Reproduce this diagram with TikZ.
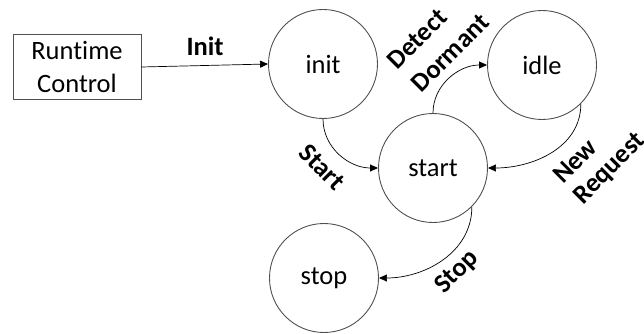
\documentclass[tikz,border=0pt]{standalone}
\usepackage{fontspec}
\setmainfont{Carlito}[RawFeature=-liga]
\usetikzlibrary{arrows.meta}
\definecolor{edgegray}{RGB}{80,80,80}
\begin{document}
\begin{tikzpicture}[x=1pt,y=-1pt,
  every node/.style={font=\fontsize{26.5}{33}\selectfont},
  state/.style={circle,draw=edgegray,line width=0.9pt,minimum size=109pt,inner sep=0pt},
  ctrlbox/.style={rectangle,draw=edgegray,line width=0.9pt,minimum width=128pt,minimum height=65pt,align=center,inner sep=0pt},
  arr/.style={draw=black,line width=0.7pt,-{Triangle[length=8pt,width=7pt]}},
  lbl/.style={font=\fontsize{26.5}{33}\selectfont\bfseries,inner sep=0pt}]
\useasboundingbox (0,0) rectangle (644,334);
\node[ctrlbox] (rc) at (77,67) {Runtime\\Control};
\node[state] (init) at (323,64) {init};
\node[state] (idle) at (542,65) {idle};
\node[state] (start) at (433,168) {start};
\node[state] (stop) at (324,278) {stop};
\draw[arr] (rc.east) -- (init.west);
\draw[arr] (init.south) to[out=-90,in=180] (start.west);
\draw[arr] (start.north) to[out=90,in=180] (idle.west);
\draw[arr] (idle.-45) to[out=-90,in=0] (start.east);
\draw[arr] (start.-45) to[out=-90,in=0] (stop.east);
\node[lbl] (linit) at (205,46) {Init};
\node[lbl,rotate=-45] (lstart) at (322,167) {Start};
\node[lbl,rotate=45] (ldetect) at (417,39) {Detect};
\node[lbl,rotate=45] (ldormant) at (450,53) {Dormant};
\node[lbl,rotate=45] (lnew) at (575,161) {New};
\node[lbl,rotate=45] (lrequest) at (610,169) {Request};
\node[lbl,rotate=45] (lstop) at (457,272) {Stop};
\end{tikzpicture}
\end{document}
